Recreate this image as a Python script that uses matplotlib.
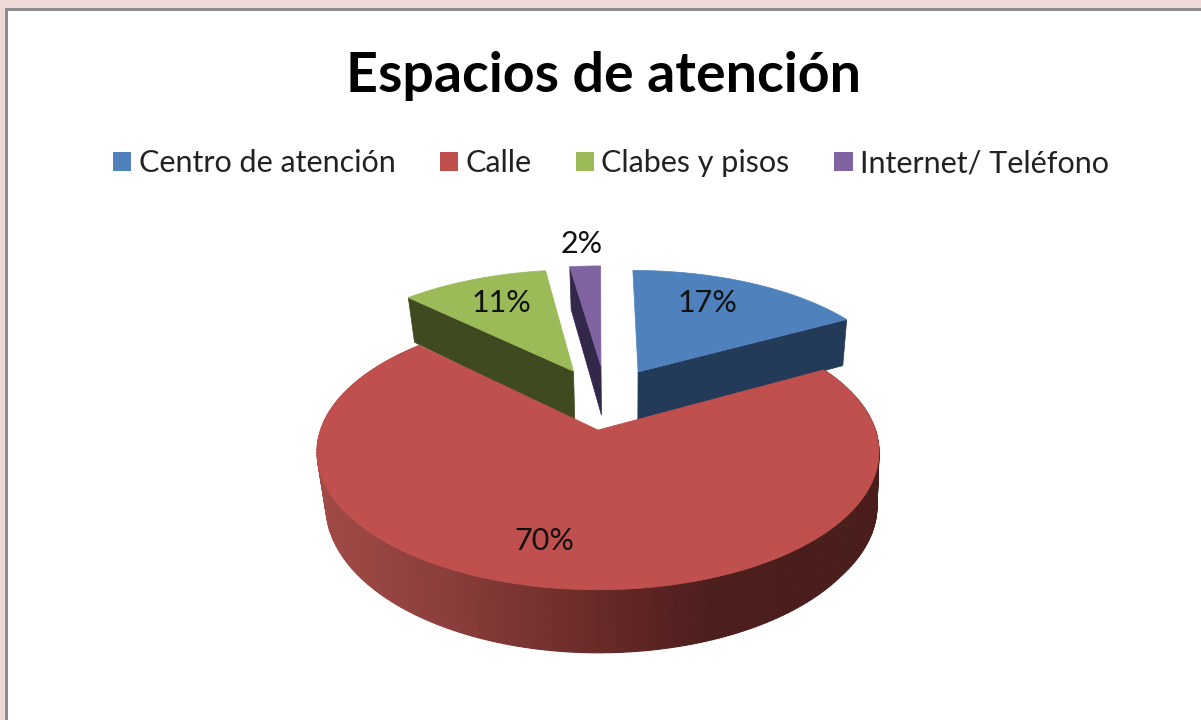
import numpy as np
import matplotlib
matplotlib.use("Agg")
import matplotlib.pyplot as plt
from matplotlib.patches import Patch, Rectangle

plt.rcParams['font.family'] = ['Lato', 'DejaVu Sans']

title = "Espacios de atención"
categories = ["Centro de atención", "Calle", "Clabes y pisos", "Internet/ Teléfono"]
values = [17, 70.3, 10.5, 2.2]
labels = ["17%", "70%", "11%", "2%"]

colors = ['#4f81bd', '#c0504d', '#9bbb59', '#8064a2']
dark_colors = ['#243a59', '#5a2422', '#3f4a20', '#33274a']
# how far each slice is pulled out, in units of the pie radius
offsets = [(0.155, 0.464), (0.0, 0.0), (-0.095, 0.47), (0.0116, 0.515)]
label_pos = [(708, 303), (544, 541), (501, 303), (582, 244)]

# perspective of the pie plane
cx, cy, ax_x, ax_y, persp = 598, 430, 277.4, 66, 0.159
thick = 53
# sideways lean of the lower rim, by position across the pie
lean_x = [316, 600, 845, 879]
lean_dx = [9, 0.5, -4, -2]


def top(x, y):
    d = 1 + persp * y
    return cx + ax_x * x / d, (cy - ax_y * y) / d


def bottom(x, y):
    px, py = top(x, y)
    return px + np.interp(px, lean_x, lean_dx), py + thick / (1 + persp * y)


fig = plt.figure(figsize=(12.01, 7.2), dpi=100)
ax = fig.add_axes([0, 0, 1, 1])
ax.set_xlim(0, 1201)
ax.set_ylim(720, 0)
ax.axis('off')

# window frame
ax.add_patch(Rectangle((0, 0), 1201, 720, fc='#efd9d7', ec='none', zorder=0))
ax.add_patch(Rectangle((5, 8), 1196, 712, fc='#8c8c8c', ec='none', zorder=0))
ax.add_patch(Rectangle((8, 11), 1193, 709, fc='white', ec='none', zorder=0))

# slice angles, clockwise from the top
fracs = np.array(values) / sum(values)
ends = 90 - 360 * np.cumsum(fracs)
starts = ends + 360 * fracs
# which end of the arc shows its cut side
cut_side = [-1, 0, 0, 0]
for i in [0, 2, 3, 1]:
    ox, oy = offsets[i]
    th = np.radians(np.linspace(starts[i], ends[i], 200))
    xs = np.cos(th) + ox
    ys = np.sin(th) + oy

    if i == 1:
        # outer wall of the big slice, shaded left to right
        stops_x = [320, 450, 550, 650, 710, 880]
        stops_r = [0.63, 0.54, 0.45, 0.36, 0.30, 0.29]
        stops_g = [0.29, 0.24, 0.19, 0.14, 0.12, 0.115]
        stops_b = [0.275, 0.23, 0.18, 0.135, 0.115, 0.11]
        for k in range(len(th) - 1):
            x0, y0 = top(xs[k], ys[k])
            x1, y1 = top(xs[k + 1], ys[k + 1])
            x2, y2 = bottom(xs[k + 1], ys[k + 1])
            x3, y3 = bottom(xs[k], ys[k])
            m = (x0 + x1) / 2
            c = (np.interp(m, stops_x, stops_r), np.interp(m, stops_x, stops_g), np.interp(m, stops_x, stops_b))
            ax.fill([x0, x1, x2, x3], [y0, y1, y2, y3], color=c, lw=0.8, zorder=2)
    else:
        # flat cut side, from the centre to the outer edge
        e = cut_side[i]
        p = [top(ox, oy), top(xs[e], ys[e]), bottom(xs[e], ys[e]), bottom(ox, oy)]
        ax.fill([q[0] for q in p], [q[1] for q in p], color=dark_colors[i], lw=0.5, zorder=2)

    px, py = top(np.append(xs, ox), np.append(ys, oy))
    ax.fill(px, py, color=colors[i], lw=0.5, zorder=3 if i != 1 else 4)

for lab, (lx, ly) in zip(labels, label_pos):
    ax.text(lx, ly, lab, fontsize=22, color='#111111', ha='center', va='center', zorder=6)

ax.text(604, 76, title, fontsize=40, fontweight='bold', color='black', ha='center', va='center', zorder=6)

handles = [Patch(fc=c, ec='none') for c in colors]
ax.legend(handles, categories, loc='center', bbox_to_anchor=(611 / 1201, 1 - 163 / 720), ncol=4, frameon=False,
          fontsize=22, labelcolor='#222222', handlelength=0.59, handleheight=0.59, handletextpad=0.23,
          columnspacing=1.47, borderpad=0)

fig.savefig('out.png', dpi=100)
